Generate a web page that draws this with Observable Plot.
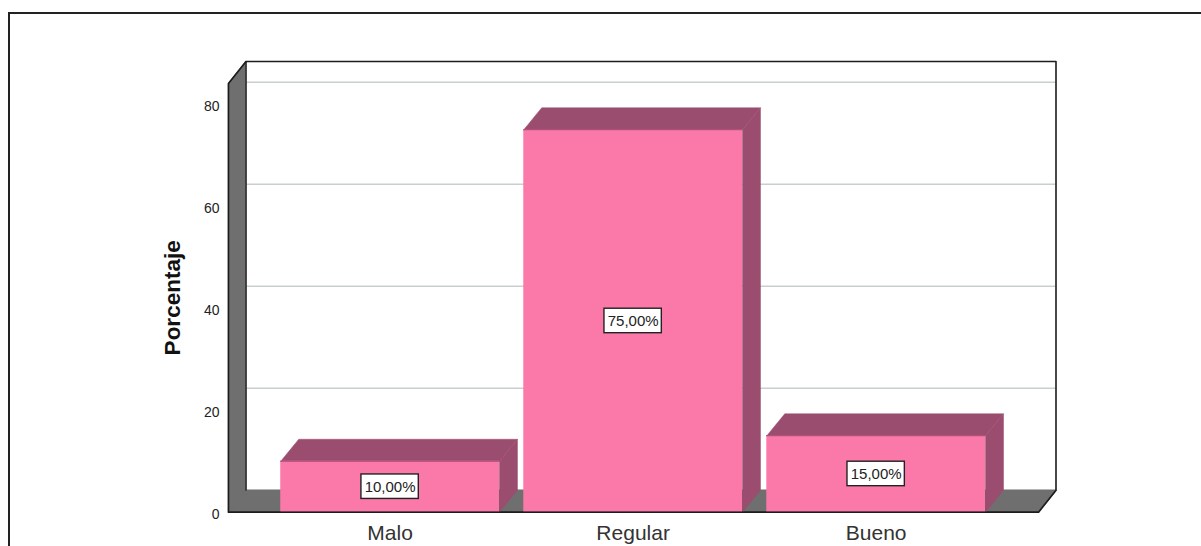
<!DOCTYPE html>
<html><head><meta charset="utf-8">
<script src="https://cdn.jsdelivr.net/npm/d3@7"></script>
<script src="https://cdn.jsdelivr.net/npm/@observablehq/plot@0.6"></script>
<style>
html,body{margin:0;padding:0;background:#fff;overflow:hidden}
#wrap{position:relative;width:1201px;height:546px}
#frame{position:absolute;left:8px;top:12px;right:0;bottom:0;border-left:2px solid #222;border-top:2px solid #222;pointer-events:none}
svg{display:block}
</style></head><body>
<div id="wrap"><div id="frame"></div></div>
<script>
const categories = ["Malo", "Regular", "Bueno"];
const values = [10, 75, 15];
const valueLabels = ["10,00%", "75,00%", "15,00%"];
const yTicks = [0, 20, 40, 60, 80];
const yLabel = "Porcentaje";

const xMin = -0.665, xMax = 2.668, yMax = 84.06;
const barHalf = 0.45;
const depthX = 0.074, depthY = 4.3, wallDepthX = 0.072, wallDepthY = 4.3;
const boxHalfX = 0.118, boxHalfY = 2.4;
const colors = {front:"#fb79a9", edge:"#a04a70", side:"#9b4d6f", wall:"#6f6f6f", grid:"#c9cfcf", line:"#1c1c1c"};

const bars = categories.map((c,i)=>({i, c, v:values[i], label:valueLabels[i]}));
const poly = (id, pts) => pts.map(([x,y])=>({id,x,y}));
const sideFaces = bars.flatMap(b=>{
  const r=b.i+barHalf, l=b.i-barHalf;
  return [
    ...poly("top"+b.i, [[l,b.v],[l+depthX,b.v+depthY],[r+depthX,b.v+depthY],[r,b.v]]),
    ...poly("side"+b.i, [[r,0],[r,b.v],[r+depthX,b.v+depthY],[r+depthX,depthY],[r,0]])
  ];
});
const backX = xMin+wallDepthX, backXR = xMax+wallDepthX, backTop = yMax+wallDepthY;
const walls = [
  ...poly("left", [[xMin,0],[xMin,yMax],[backX,backTop],[backX,wallDepthY]]),
  ...poly("floor", [[xMin,0],[backX,wallDepthY],[backXR,wallDepthY],[xMax,0]])
];
const outline = [[xMin,0],[xMin,yMax],[backX,backTop],[backXR,backTop],[backXR,wallDepthY],[xMax,0],[xMin,0]].map(([x,y])=>({x,y}));

const chart = Plot.plot({
  width:1201, height:546,
  marginLeft:228, marginRight:163, marginTop:83, marginBottom:34.3,
  style:{background:"transparent", fontFamily:"'Liberation Sans',Arial,sans-serif"},
  x:{domain:[xMin,xMax], axis:null},
  y:{domain:[0,yMax], axis:null},
  marks:[
    Plot.ruleY(yTicks.filter(t=>t>0),{x1:backX,x2:backXR,y:d=>d+wallDepthY,stroke:colors.grid,strokeWidth:1.5}),
    Plot.line(walls,{x:"x",y:"y",z:"id",fill:colors.wall,stroke:colors.wall,curve:"linear-closed"}),
    Plot.line(outline,{x:"x",y:"y",stroke:colors.line,strokeWidth:1.6}),
    Plot.line([{x:backX,y:wallDepthY},{x:backX,y:backTop}],{x:"x",y:"y",stroke:colors.line,strokeWidth:1.2}),
    Plot.line(sideFaces,{x:"x",y:"y",z:"id",fill:colors.side,stroke:colors.side,strokeWidth:0.5,curve:"linear-closed"}),
    Plot.rect(bars,{x1:d=>d.i-barHalf,x2:d=>d.i+barHalf,y1:0,y2:"v",fill:colors.front}),
    Plot.ruleY(bars,{x1:d=>d.i-barHalf,x2:d=>d.i+barHalf,y:"v",stroke:colors.edge,strokeWidth:1}),
    Plot.ruleY([0],{x1:xMin,x2:xMax,stroke:colors.line,strokeWidth:1.6}),
    Plot.rect(bars,{x1:d=>d.i-boxHalfX,x2:d=>d.i+boxHalfX,y1:d=>d.v/2-boxHalfY,y2:d=>d.v/2+boxHalfY,fill:"white",stroke:"#222",strokeWidth:1.4}),
    Plot.text(bars,{x:"i",y:d=>d.v/2,text:"label",fontSize:15,fill:"#222"}),
    Plot.axisX({ticks:[0,1,2],tickFormat:i=>categories[i],tickSize:0,tickPadding:13,fontSize:21,label:null,fill:"#333"}),
    Plot.axisY({ticks:yTicks,tickSize:0,tickPadding:9,fontSize:14,dy:2,label:null,tickFormat:d=>d,fill:"#222"}),
    Plot.text([yLabel],{frameAnchor:"left",textAnchor:"middle",rotate:-90,dx:-56,fontSize:22.5,fontWeight:"bold",fill:"#111"})
  ]
});
document.getElementById("wrap").appendChild(chart);
</script></body></html>
